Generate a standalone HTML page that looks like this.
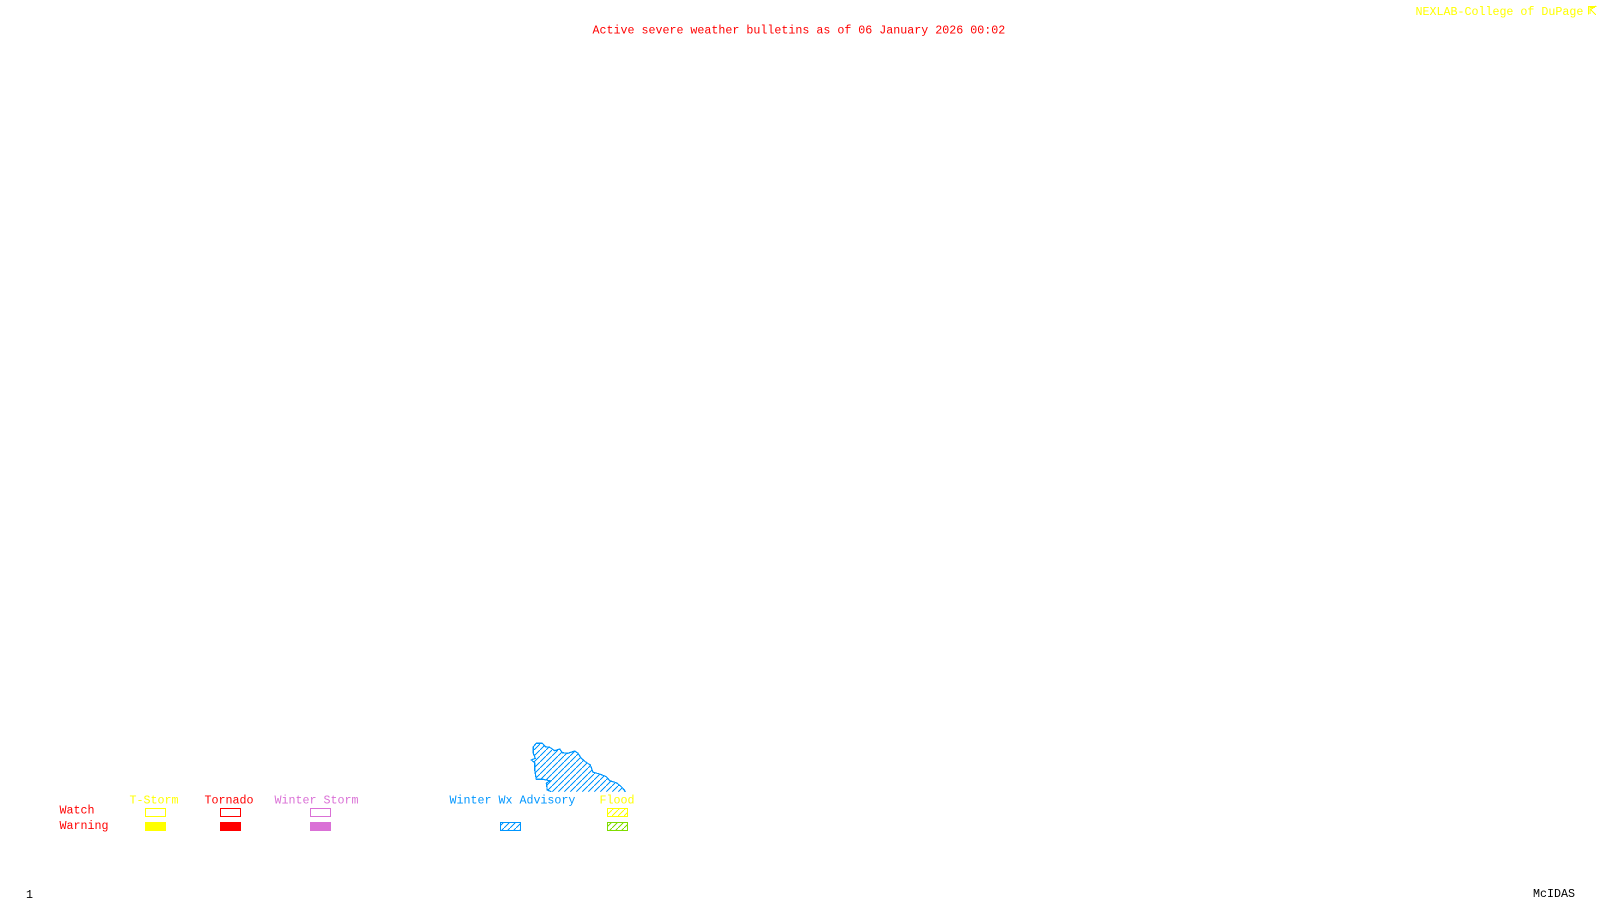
<!DOCTYPE html>
<html>
<head>
<meta charset="utf-8">
<style>
html,body{margin:0;padding:0;background:#fff;width:1600px;height:900px;overflow:hidden}
svg{display:block}
text{font-family:"Liberation Mono",monospace;font-size:11.67px;white-space:pre}
</style>
</head>
<body>
<svg width="1600" height="900" viewBox="0 0 1600 900" xmlns="http://www.w3.org/2000/svg">
<defs>
<pattern id="hb" patternUnits="userSpaceOnUse" width="6" height="6"><path d="M-1 7L7 -1" stroke="#0096ff" stroke-width="1" shape-rendering="crispEdges"/></pattern>
<pattern id="hy" patternUnits="userSpaceOnUse" width="6" height="6"><path d="M-1 7L7 -1" stroke="#ffff00" stroke-width="1" shape-rendering="crispEdges"/></pattern>
<pattern id="hg" patternUnits="userSpaceOnUse" width="6" height="6"><path d="M-1 7L7 -1" stroke="#7fdc00" stroke-width="1" shape-rendering="crispEdges"/></pattern>
</defs>
<rect width="1600" height="900" fill="#fff"/>

<text x="592.5" y="33.5" fill="#ff0000">Active severe weather bulletins as of 06 January 2026 00:02</text>
<text x="1415.5" y="15" fill="#ffff00">NEXLAB-College of DuPage</text>
<path d="M1588.5 14.5V6.5H1596.5M1589.5 7.5H1595M1590 7L1590 14M1590 10L1596 6M1591 10L1596 15" fill="none" stroke="#ffff00" stroke-width="1" shape-rendering="crispEdges"/>

<polygon points="533.3,746.7 536.3,743.3 542.3,743.3 545.3,746.7 549.7,747.3 554.7,750.7 559.7,749 562.3,752.7 568,753.3 574.7,751 578,753.3 581.3,758.3 585.3,761.7 590.3,765 593,772.3 599.7,774 606.3,776.7 609.7,780.7 616.3,782.7 621.3,786.7 625.7,791.7 551.3,791.7 547.3,790 546.3,783.3 549.7,780.7 543,779.3 536.3,779.3 534.7,770 534.7,762.7 531.3,760 535.3,758.3 533.3,753.3" fill="url(#hb)"/>
<polyline points="551.3,791.7 547.3,790 546.3,783.3 549.7,780.7 543,779.3 536.3,779.3 534.7,770 534.7,762.7 531.3,760 535.3,758.3 533.3,753.3 533.3,746.7 536.3,743.3 542.3,743.3 545.3,746.7 549.7,747.3 554.7,750.7 559.7,749 562.3,752.7 568,753.3 574.7,751 578,753.3 581.3,758.3 585.3,761.7 590.3,765 593,772.3 599.7,774 606.3,776.7 609.7,780.7 616.3,782.7 621.3,786.7 625.7,791.7" fill="none" stroke="#0096ff" stroke-width="1.2" shape-rendering="crispEdges"/>

<text x="129.5" y="803.5" fill="#ffff00">T-Storm</text>
<text x="204.5" y="803.5" fill="#ff0000">Tornado</text>
<text x="274.5" y="803.5" fill="#da70d6">Winter Storm</text>
<text x="449.5" y="803.5" fill="#0096ff">Winter Wx Advisory</text>
<text x="599.5" y="803.5" fill="#ffff00">Flood</text>
<text x="59.5" y="813.5" fill="#ff0000">Watch</text>
<text x="59.5" y="829" fill="#ff0000">Warning</text>

<g shape-rendering="crispEdges" stroke-width="1" fill="none">
<rect x="145.5" y="808.5" width="20" height="8" stroke="#ffff00"/>
<rect x="220.5" y="808.5" width="20" height="8" stroke="#ff0000"/>
<rect x="310.5" y="808.5" width="20" height="8" stroke="#da70d6"/>
<rect x="145" y="822" width="21" height="9" fill="#ffff00"/>
<rect x="220" y="822" width="21" height="9" fill="#ff0000"/>
<rect x="310" y="822" width="21" height="9" fill="#da70d6"/>
<rect x="500.5" y="822.5" width="20" height="8" stroke="#0096ff" fill="url(#hb)"/>
<rect x="607.5" y="808.5" width="20" height="8" stroke="#ffff00" fill="url(#hy)"/>
<rect x="607.5" y="822.5" width="20" height="8" stroke="#7fdc00" fill="url(#hg)"/>
</g>

<text x="26" y="898" fill="#000">1</text>
<text x="1533" y="897" fill="#000">McIDAS</text>
</svg>
</body>
</html>
